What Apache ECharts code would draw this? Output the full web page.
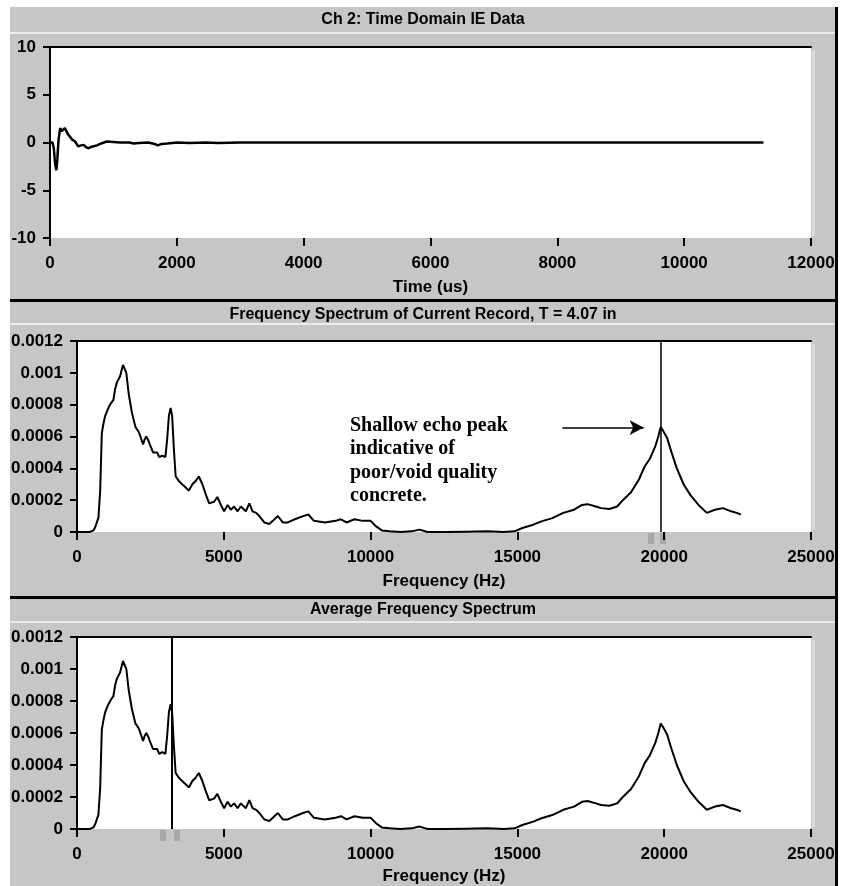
<!DOCTYPE html>
<html>
<head>
<meta charset="utf-8">
<script src="https://cdn.jsdelivr.net/npm/echarts@6/dist/echarts.min.js"></script>
<style>html,body{margin:0;padding:0;background:#fff}#c{width:846px;height:886px}</style>
</head>
<body>
<div id="c"></div>
<script>
// ---------- data ----------
const timeUs = [0, 40, 60, 80, 100, 115, 135, 160, 185, 210, 235, 255, 280, 315, 350, 395, 445, 490, 530, 570, 610, 650, 690, 740, 790, 850, 900, 1000, 1100, 1250, 1320, 1400, 1550, 1650, 1700, 1760, 1850, 2000, 2200, 2450, 2650, 3000, 4000, 6000, 8000, 10000, 11250];
const amplitude = [0, 0, -0.6, -2.2, -2.9, -1.8, 0.3, 1.5, 1.2, 1.0, 1.5, 1.4, 0.9, 0.6, 0.3, 0.1, -0.4, -0.3, -0.25, -0.5, -0.6, -0.45, -0.4, -0.3, -0.15, 0.0, 0.1, 0.05, 0, 0, -0.1, -0.05, 0, -0.15, -0.3, -0.15, -0.1, 0, -0.05, 0, -0.05, 0, 0, 0, 0, 0, 0];

const freqHz = [0, 200, 430, 560, 620, 730, 790, 845, 900, 960, 1070, 1160, 1240, 1300, 1360, 1470, 1565, 1620, 1680, 1760, 1870, 1990, 2100, 2160, 2250, 2300, 2360, 2420, 2480, 2590, 2730, 2800, 2900, 3010, 3070, 3130, 3190, 3240, 3300, 3360, 3470, 3580, 3700, 3810, 3930, 4040, 4150, 4270, 4380, 4500, 4670, 4780, 4900, 5010, 5130, 5240, 5350, 5470, 5580, 5750, 5870, 5980, 6100, 6210, 6380, 6550, 6670, 6840, 7010, 7180, 7420, 7700, 7880, 8070, 8440, 8810, 8990, 9180, 9450, 9730, 10000, 10190, 10380, 10650, 11020, 11390, 11670, 11940, 12500, 13240, 13970, 14530, 14900, 15170, 15540, 15820, 16190, 16560, 16930, 17200, 17390, 17670, 17850, 18130, 18400, 18590, 18870, 19140, 19330, 19510, 19700, 19800, 19880, 19950, 20100, 20250, 20430, 20660, 20900, 21170, 21450, 21730, 22000, 22280, 22470, 22610];
const currentSpectrum = [0, 0, 0, 0.00001, 0.00003, 0.00009, 0.00026, 0.00062, 0.00068, 0.00073, 0.00078, 0.00081, 0.00083, 0.0009, 0.00094, 0.00098, 0.00105, 0.00104, 0.001, 0.00087, 0.00075, 0.00066, 0.00063, 0.0006, 0.00055, 0.00058, 0.0006, 0.00058, 0.00055, 0.0005, 0.0005, 0.00047, 0.00048, 0.00047, 0.00058, 0.00073, 0.00078, 0.00073, 0.00052, 0.00035, 0.00032, 0.0003, 0.00028, 0.00026, 0.0003, 0.00032, 0.00035, 0.0003, 0.00024, 0.00018, 0.00019, 0.00022, 0.00017, 0.00013, 0.00017, 0.00014, 0.00016, 0.00013, 0.00016, 0.00013, 0.00018, 0.00013, 0.00012, 0.0001, 0.00006, 0.00005, 0.00007, 0.0001, 0.00006, 0.00006, 0.00008, 0.0001, 0.00011, 0.00007, 0.00006, 0.00007, 0.00008, 0.00006, 0.00008, 0.00007, 0.00007, 0.000035, 0.00001, 0.000004, 0, 0.000004, 0.000015, 0, 0, 0.000002, 0.000004, 0, 0.000004, 0.000025, 0.000046, 0.000067, 0.000087, 0.00012, 0.00014, 0.00017, 0.000175, 0.00016, 0.00015, 0.000145, 0.00016, 0.0002, 0.00025, 0.00033, 0.00041, 0.00046, 0.00054, 0.0006, 0.00066, 0.00064, 0.00059, 0.0005, 0.0004, 0.0003, 0.00023, 0.00017, 0.00012, 0.00014, 0.00015, 0.00013, 0.00012, 0.00011];
const averageSpectrum = [0, 0, 0, 0.00001, 0.00003, 0.00009, 0.00026, 0.00062, 0.00068, 0.00073, 0.00078, 0.00081, 0.00083, 0.0009, 0.00094, 0.00098, 0.00105, 0.00104, 0.001, 0.00087, 0.00075, 0.00066, 0.00063, 0.0006, 0.00055, 0.00058, 0.0006, 0.00058, 0.00055, 0.0005, 0.0005, 0.00047, 0.00048, 0.00047, 0.00058, 0.00073, 0.00078, 0.00073, 0.00052, 0.00035, 0.00032, 0.0003, 0.00028, 0.00026, 0.0003, 0.00032, 0.00035, 0.0003, 0.00024, 0.00018, 0.00019, 0.00022, 0.00017, 0.00013, 0.00017, 0.00014, 0.00016, 0.00013, 0.00016, 0.00013, 0.00018, 0.00013, 0.00012, 0.0001, 0.00006, 0.00005, 0.00007, 0.0001, 0.00006, 0.00006, 0.00008, 0.0001, 0.00011, 0.00007, 0.00006, 0.00007, 0.00008, 0.00006, 0.00008, 0.00007, 0.00007, 0.000035, 0.00001, 0.000004, 0, 0.000004, 0.000015, 0, 0, 0.000002, 0.000004, 0, 0.000004, 0.000025, 0.000046, 0.000067, 0.000087, 0.00012, 0.00014, 0.00017, 0.000175, 0.00016, 0.00015, 0.000145, 0.00016, 0.0002, 0.00025, 0.00033, 0.00041, 0.00046, 0.00054, 0.0006, 0.00066, 0.00064, 0.00059, 0.0005, 0.0004, 0.0003, 0.00023, 0.00017, 0.00012, 0.00014, 0.00015, 0.00013, 0.00012, 0.00011];

const timeTicks = ['0', '2000', '4000', '6000', '8000', '10000', '12000'];
const ampTicks = ['-10', '-5', '0', '5', '10'];
const freqTicks = ['0', '5000', '10000', '15000', '20000', '25000'];
const specTicks = ['0', '0.0002', '0.0004', '0.0006', '0.0008', '0.001', '0.0012'];

const panelTitles = ['Ch 2: Time Domain IE Data', 'Frequency Spectrum of Current Record, T = 4.07 in', 'Average Frequency Spectrum'];
const axisNames = ['Time (us)', 'Frequency (Hz)', 'Frequency (Hz)'];
const currentCursorHz = 19880;
const averageCursorHz = 3220;
const annotationLines = ['Shallow echo peak', 'indicative of', 'poor/void quality', 'concrete.'];
const arrowStart = [16530, 0.000656];
const arrowEnd = [19300, 0.000656];

// ---------- chart ----------
const FONT = '"Liberation Sans", Arial, sans-serif';
const txt = { color: '#000', fontFamily: FONT, fontWeight: 'bold', fontSize: 17 };

function pairs(xs, ys) { return xs.map((x, i) => [x, ys[i]]); }

function bottomX(gi, max, interval, ticks, name, gap) {
  return {
    type: 'value', gridIndex: gi, min: 0, max: max, interval: interval, position: 'bottom',
    axisLine: { show: true, onZero: false, lineStyle: { color: 'rgba(0,0,0,0)' } },
    axisTick: { show: true, length: 8, lineStyle: { color: '#000', width: 2 } },
    axisLabel: Object.assign({ margin: 17, formatter: (v, i) => ticks[i] }, txt),
    splitLine: { show: false },
    name: name, nameLocation: 'middle', nameGap: gap, nameTextStyle: txt
  };
}
function topX(gi, max) {
  return {
    type: 'value', gridIndex: gi, min: 0, max: max, position: 'top',
    axisLine: { show: true, onZero: false, lineStyle: { color: '#000', width: 2 } },
    axisTick: { show: false }, axisLabel: { show: false }, splitLine: { show: false }
  };
}
function leftY(gi, min, max, interval, ticks, margin) {
  return {
    type: 'value', gridIndex: gi, min: min, max: max, interval: interval,
    axisLine: { show: true, onZero: false, lineStyle: { color: '#000', width: 2 } },
    axisTick: { show: true, length: 7, lineStyle: { color: '#000', width: 2 } },
    axisLabel: Object.assign({ margin: margin, formatter: (v, i) => ticks[i] }, txt),
    splitLine: { show: false }
  };
}
const gridBase = { show: true, backgroundColor: '#fff', borderWidth: 0 };
const lineBase = { type: 'line', showSymbol: false, symbol: 'none', smooth: false, lineStyle: { color: '#000', width: 2 }, animation: false };

const option = {
  backgroundColor: '#fff',
  animation: false,
  title: panelTitles.map((t, i) => ({
    text: t, left: 'center', top: [12, 307, 602][i], padding: 0,
    textStyle: Object.assign({}, txt, { fontSize: 16 })
  })),
  grid: [
    Object.assign({ left: 50, top: 47, width: 761, height: 191 }, gridBase),
    Object.assign({ left: 77, top: 341, width: 734, height: 191 }, gridBase),
    Object.assign({ left: 77, top: 637, width: 734, height: 192 }, gridBase)
  ],
  xAxis: [
    bottomX(0, 12000, 2000, timeTicks, axisNames[0], 41),
    bottomX(1, 25000, 5000, freqTicks, axisNames[1], 41),
    bottomX(2, 25000, 5000, freqTicks, axisNames[2], 39),
    topX(0, 12000), topX(1, 25000), topX(2, 25000)
  ],
  yAxis: [
    leftY(0, -10, 10, 5, ampTicks, 14),
    leftY(1, 0, 0.0012, 0.0002, specTicks, 14),
    leftY(2, 0, 0.0012, 0.0002, specTicks, 14)
  ],
  series: [
    Object.assign({}, lineBase, { xAxisIndex: 0, yAxisIndex: 0, data: pairs(timeUs, amplitude), lineStyle: { color: '#000', width: 2.5 } }),
    Object.assign({}, lineBase, {
      xAxisIndex: 1, yAxisIndex: 1, data: pairs(freqHz, currentSpectrum),
      markLine: {
        silent: true, animation: false, symbol: ['none', 'none'], label: { show: false },
        lineStyle: { color: '#000', width: 1.5, type: 'solid' },
        data: [
          { xAxis: currentCursorHz },
          [{ coord: arrowStart, symbol: 'none' }, { coord: arrowEnd, symbol: 'arrow', symbolSize: [11, 14] }]
        ]
      }
    }),
    Object.assign({}, lineBase, {
      xAxisIndex: 2, yAxisIndex: 2, data: pairs(freqHz, averageSpectrum),
      markLine: {
        silent: true, animation: false, symbol: ['none', 'none'], label: { show: false },
        lineStyle: { color: '#000', width: 2, type: 'solid' },
        data: [{ xAxis: averageCursorHz }]
      }
    })
  ],
  graphic: [
    { type: 'rect', z: -100, shape: { x: 10, y: 7, width: 826, height: 879 }, style: { fill: '#c6c6c6' } },
    { type: 'rect', z: -99, shape: { x: 10, y: 32, width: 826, height: 2 }, style: { fill: '#ececec' } },
    { type: 'rect', z: -99, shape: { x: 10, y: 323, width: 826, height: 2 }, style: { fill: '#ececec' } },
    { type: 'rect', z: -99, shape: { x: 10, y: 621, width: 826, height: 2 }, style: { fill: '#ececec' } },
    { type: 'rect', z: -98, shape: { x: 10, y: 299, width: 828, height: 3 }, style: { fill: '#000' } },
    { type: 'rect', z: -98, shape: { x: 10, y: 596, width: 828, height: 3 }, style: { fill: '#000' } },
    { type: 'rect', z: -98, shape: { x: 835, y: 7, width: 3, height: 879 }, style: { fill: '#000' } },
    { type: 'rect', z: -97, shape: { x: 812, y: 50, width: 3, height: 186 }, style: { fill: '#dcdcdc' } },
    { type: 'rect', z: -97, shape: { x: 812, y: 344, width: 3, height: 186 }, style: { fill: '#dcdcdc' } },
    { type: 'rect', z: -97, shape: { x: 812, y: 640, width: 3, height: 187 }, style: { fill: '#dcdcdc' } },
    { type: 'rect', z: -97, shape: { x: 648, y: 533, width: 6, height: 11 }, style: { fill: '#a8a8a8' } },
    { type: 'rect', z: -97, shape: { x: 660, y: 533, width: 6, height: 11 }, style: { fill: '#a8a8a8' } },
    { type: 'rect', z: -97, shape: { x: 160, y: 830, width: 6, height: 11 }, style: { fill: '#a8a8a8' } },
    { type: 'rect', z: -97, shape: { x: 174, y: 830, width: 6, height: 11 }, style: { fill: '#a8a8a8' } },
    {
      type: 'text', z: 100, x: 350, y: 414,
      style: { text: annotationLines.join('\n'), font: 'bold 20px "Liberation Serif", "Times New Roman", serif', lineHeight: 23.5, fill: '#000' }
    }
  ]
};

const chart = echarts.init(document.getElementById('c'), null, { renderer: 'canvas' });
chart.setOption(option);
</script>
</body>
</html>
